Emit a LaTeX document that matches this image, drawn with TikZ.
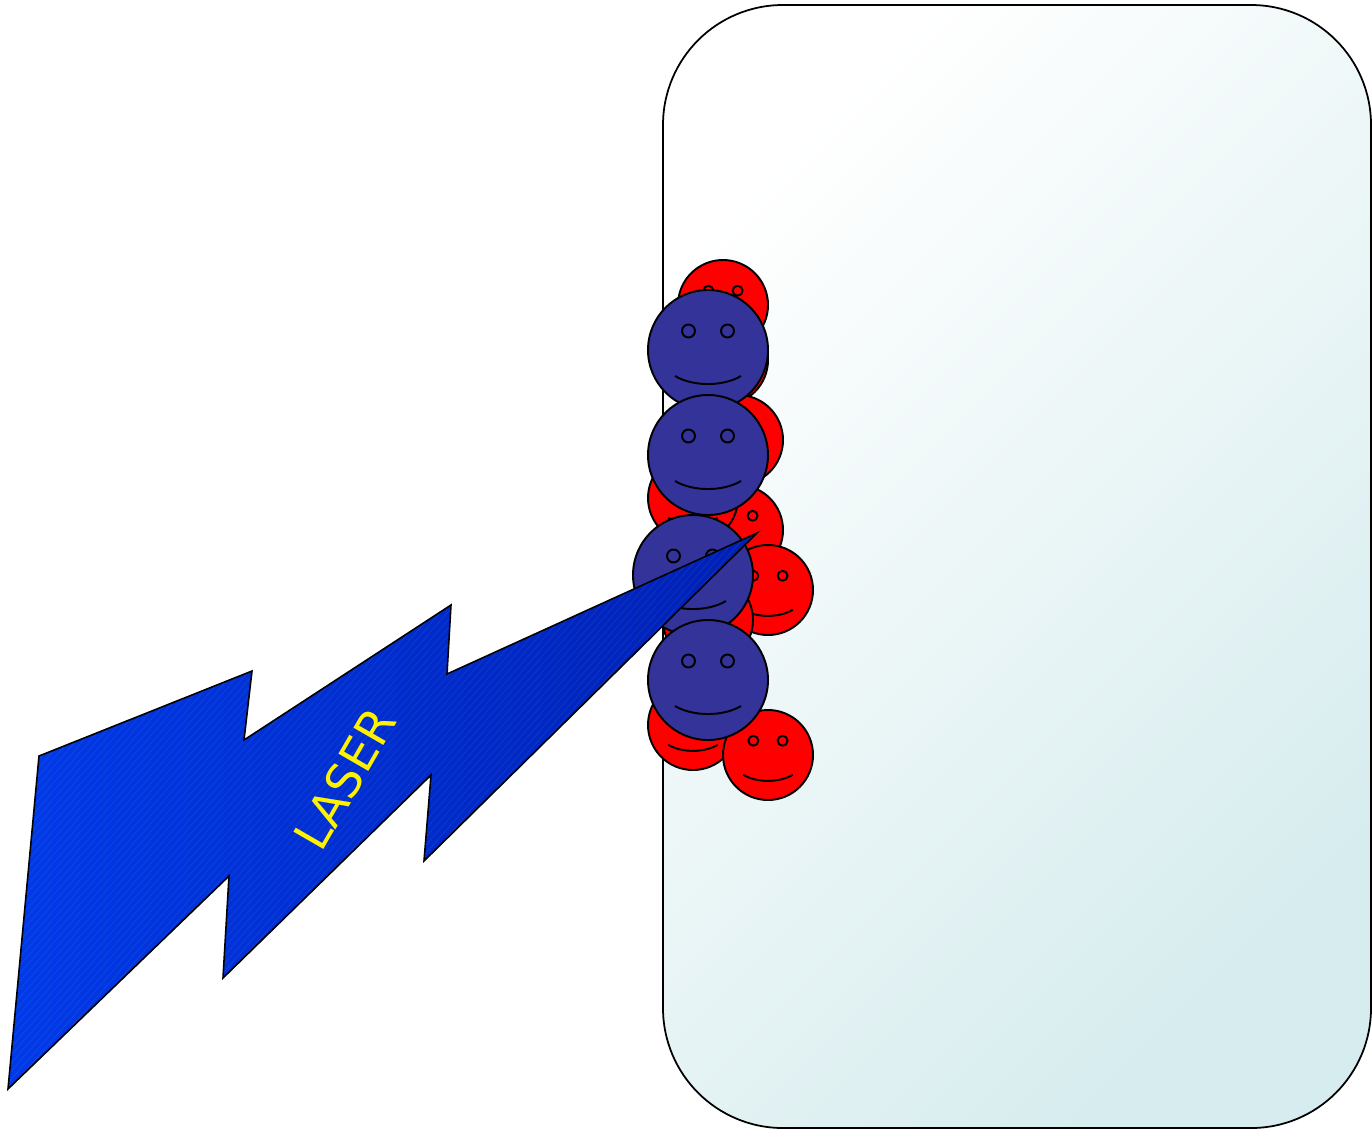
\documentclass[tikz,border=0pt]{standalone}
\usepackage{fontspec}
\newfontfamily\laserfont{DejaVu Sans}

\definecolor{smileblue}{RGB}{51,51,153}
\definecolor{smilered}{RGB}{255,0,0}
\definecolor{laserlight}{RGB}{0,58,232}
\definecolor{laserdark}{RGB}{0,32,180}
\definecolor{cellcyan}{RGB}{214,236,238}

% outline of the lightning bolt
\def\laserbolt{(39,-756) -- (252,-671) -- (244,-740) -- (451,-605) -- (447,-674)
  -- (757,-533) -- (424,-861) -- (431,-775) -- (223,-978) -- (229,-876)
  -- (8,-1089) -- cycle}

\begin{document}
\begin{tikzpicture}[
    x=0.02cm, y=0.02cm,
    outline/.style={draw=black, line width=1.1pt},
    redface/.style={outline, fill=smilered},
    blueface/.style={outline, fill=smileblue},
    beamtext/.style={text=yellow, rotate=60, font=\laserfont\fontsize{27}{27}\selectfont}
]

\useasboundingbox (0,0) rectangle (1372,-1130);

% =================================================
% CELL
% =================================================

\shade[
    draw=black,
    line width=1pt,
    rounded corners=2.4cm,
    top color=white,
    bottom color=cellcyan,
    shading angle=45
] (663,-5) rectangle (1371,-1128);

% =================================================
% SMILEYS
% =================================================

% red ones, behind
\foreach \cx/\cy in {
    723/305,
    723/360,
    738/440,
    738/530,
    693/498,
    768/590,
    708/620,
    693/725,
    768/755
}{
    \begin{scope}[shift={(\cx,-\cy)}, scale=45]
        \draw[redface] (0,0) circle (1);
        \draw[redface] (-0.325,0.317) circle (0.11);
        \draw[redface] (0.325,0.317) circle (0.11);
        \draw[outline] (-0.55,-0.44) .. controls (-0.25,-0.62) and (0.25,-0.62) .. (0.55,-0.44);
    \end{scope}
}

% blue ones, in front
\foreach \cx/\cy in {
    708/350,
    708/455,
    693/575,
    708/680
}{
    \begin{scope}[shift={(\cx,-\cy)}, scale=60]
        \draw[blueface] (0,0) circle (1);
        \draw[blueface] (-0.325,0.317) circle (0.108);
        \draw[blueface] (0.325,0.317) circle (0.108);
        \draw[outline] (-0.55,-0.433) .. controls (-0.25,-0.612) and (0.25,-0.612) .. (0.55,-0.433);
    \end{scope}
}

% =================================================
% LASER
% =================================================

\shade[
    left color=laserlight,
    right color=laserdark
] \laserbolt;

% faint stripes in the beam
\begin{scope}
    \clip \laserbolt;
    \foreach \k in {-700,-693,...,760}{
        \draw[white, opacity=0.09, line width=0.3pt] (\k,-1100) -- ++(700,800);
    }
\end{scope}

\draw[line width=0.9pt] \laserbolt;

\node[beamtext] (laser) at (345,-779) {LASER};

\end{tikzpicture}
\end{document}
